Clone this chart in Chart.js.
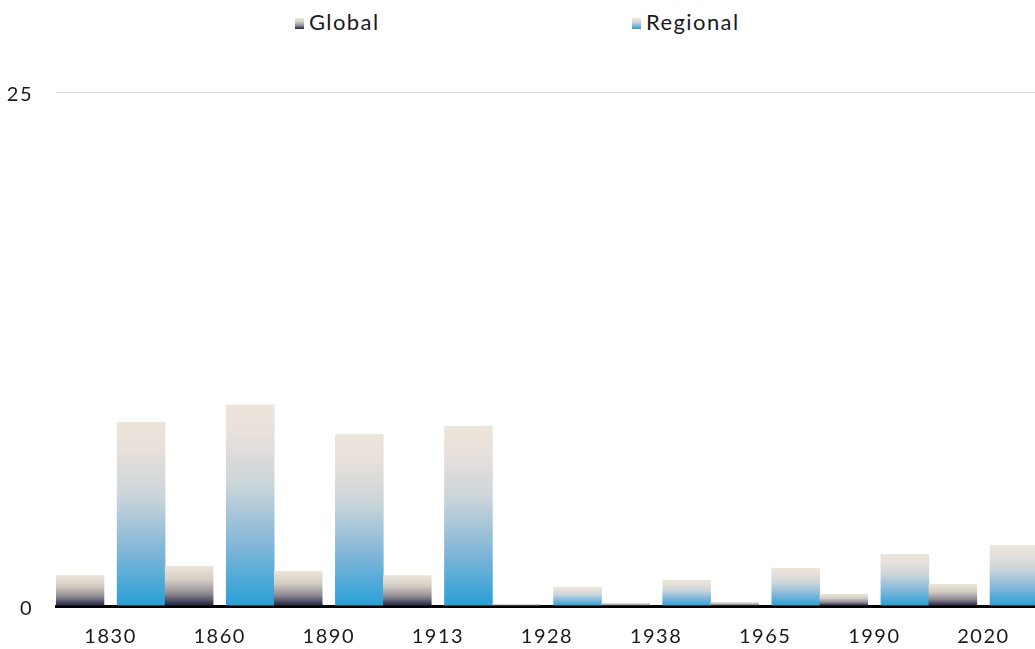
<!DOCTYPE html>
<html>
<head>
<meta charset="utf-8">
<script src="https://cdn.jsdelivr.net/npm/chart.js@4.4.1/dist/chart.umd.min.js"></script>
<style>
  html, body { margin: 0; padding: 0; overflow: hidden; background: #ffffff; width: 1035px; height: 649px; }
  #wrap { position: absolute; left: 0; top: 0; width: 1038px; height: 649px; }
  #legend { position: absolute; left: 0; top: 0; width: 1035px; height: 45px; font-family: Lato, "Open Sans", sans-serif; font-size: 22px; color: #1a1a1a; letter-spacing: 1.4px; }
  .item { position: absolute; top: 8px; display: flex; align-items: center; white-space: nowrap; }
  .box { width: 9px; height: 11px; margin-right: 5px; margin-top: 4px; }
</style>
</head>
<body>
<div id="legend"></div>
<div id="wrap"><canvas id="c" width="1038" height="649"></canvas></div>
<script>
// ---- data ----
const categories = ['1830', '1860', '1890', '1913', '1928', '1938', '1965', '1990', '2020'];
const globalValues = [1.5, 1.95, 1.7, 1.5, 0.1, 0.15, 0.2, 0.58, 1.07];
const regionalValues = [8.95, 9.8, 8.37, 8.75, 0.92, 1.26, 1.85, 2.53, 2.97];
const seriesNames = ['Global', 'Regional'];
const yTicks = [0, 25];

// ---- styles ----
const globalStops = [[0, '#ece5da'], [0.35, '#d4cdc4'], [0.7, '#8e8990'], [1, '#1d2042']];
const regionalStops = [[0, '#ece5da'], [0.15, '#e8e0db'], [0.4, '#cbd5d9'], [0.7, '#82b6d8'], [1, '#28a0d6']];

function barGradient(stops) {
  return (ctx) => {
    const chart = ctx.chart;
    const scales = chart.scales;
    if (!chart.chartArea || ctx.type !== 'data' || !scales.y) return stops[stops.length - 1][1];
    const v = ctx.parsed ? ctx.parsed.y : ctx.raw;
    const yTop = scales.y.getPixelForValue(v);
    const yBot = scales.y.getPixelForValue(0);
    const g = chart.ctx.createLinearGradient(0, yTop, 0, Math.max(yBot, yTop + 0.5));
    stops.forEach(([o, c]) => g.addColorStop(o, c));
    return g;
  };
}
function cssGradient(stops) {
  return 'linear-gradient(to bottom, ' + stops.map(([o, c]) => c + ' ' + (o * 100) + '%').join(', ') + ')';
}

// ---- HTML legend ----
const legendEl = document.getElementById('legend');
const legendLefts = [295, 632];
[[seriesNames[0], globalStops], [seriesNames[1], regionalStops]].forEach(([name, stops], i) => {
  const it = document.createElement('div');
  it.className = 'item';
  it.style.left = legendLefts[i] + 'px';
  const b = document.createElement('span');
  b.className = 'box';
  b.style.background = cssGradient(stops);
  const t = document.createElement('span');
  t.textContent = name;
  it.appendChild(b); it.appendChild(t);
  legendEl.appendChild(it);
});

const spacingPlugin = {
  id: 'spacing',
  beforeUpdate(chart) { chart.ctx.letterSpacing = '1.5px'; },
  beforeDraw(chart) { chart.ctx.letterSpacing = '1.5px'; }
};

Chart.defaults.font.family = 'Lato, "Open Sans", sans-serif';
Chart.defaults.color = '#1a1a1a';

new Chart(document.getElementById('c'), {
  type: 'bar',
  data: {
    labels: categories,
    datasets: [
      { label: seriesNames[0], data: globalValues, backgroundColor: barGradient(globalStops), borderWidth: 0 },
      { label: seriesNames[1], data: regionalValues, backgroundColor: barGradient(regionalStops), borderWidth: 0 }
    ]
  },
  options: {
    responsive: false,
    animation: false,
    datasets: { bar: { categoryPercentage: 1.12, barPercentage: 0.795 } },
    layout: { padding: { top: 92, right: 0, bottom: 1, left: 0 } },
    plugins: { legend: { display: false }, tooltip: { enabled: false } },
    scales: {
      x: {
        afterFit(scale) { scale.height = 42; },
        grid: { display: false, drawTicks: false },
        border: { display: true, color: '#000000', width: 3 },
        ticks: { font: { size: 20 }, padding: 19, color: '#1a1a1a', maxRotation: 0 }
      },
      y: {
        min: yTicks[0],
        max: yTicks[yTicks.length - 1],
        afterBuildTicks(scale) { scale.ticks = yTicks.map(v => ({ value: v })); },
        afterFit(scale) { scale.width = 56; },
        grid: { color: (c) => c.tick && c.tick.value === 0 ? 'rgba(0,0,0,0)' : '#dcdcdc', lineWidth: 1, drawTicks: false },
        border: { display: false },
        ticks: { font: { size: 20 }, padding: 23, color: '#1a1a1a', labelOffset: 3 }
      }
    }
  },
  plugins: [spacingPlugin]
});
</script>
</body>
</html>
